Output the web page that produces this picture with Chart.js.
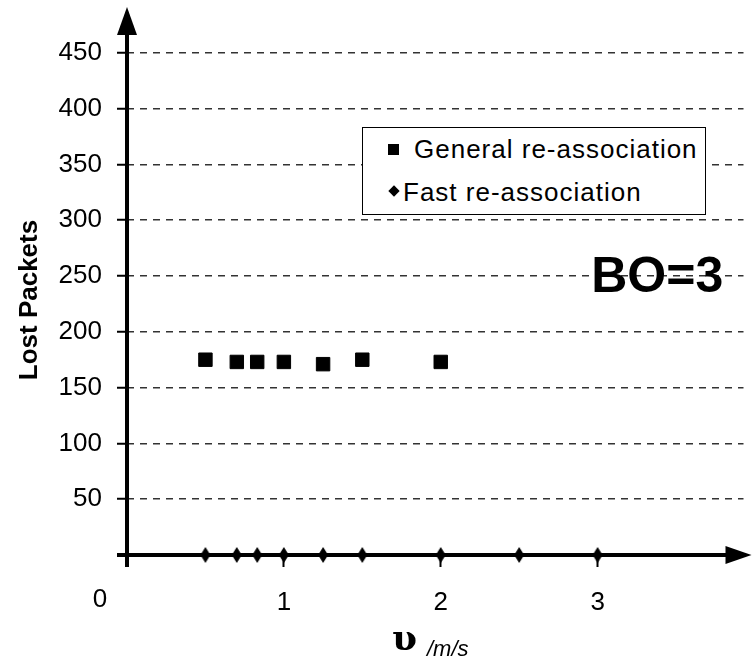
<!DOCTYPE html>
<html>
<head>
<meta charset="utf-8">
<script src="https://cdn.jsdelivr.net/npm/chart.js@4.4.0/dist/chart.umd.min.js"></script>
<style>
  html, body { margin: 0; padding: 0; background: #fff; }
  #wrap { position: relative; width: 754px; height: 666px; overflow: hidden; }
  #legend {
    position: absolute; left: 362px; top: 127px; width: 344px; height: 88px;
    box-sizing: border-box; border: 1.5px solid #000; background: #fff;
    font-family: "Liberation Sans", Arial, sans-serif; font-size: 26px; letter-spacing: 1px; color: #000;
  }
  #legend .row { position: absolute; left: 0; height: 30px; line-height: 30px; white-space: nowrap; }
  #legend .sq { position: absolute; left: 25px; top: 10px; width: 11px; height: 11px; background: #000; }
  #legend .dm { position: absolute; left: 27px; top: 10px; width: 8px; height: 8px; background: #000; transform: rotate(45deg); }
</style>
</head>
<body>
<div id="wrap">
  <canvas id="chart" width="754" height="666"></canvas>
  <div id="legend"></div>
</div>
<script>
// Lost packets vs. speed, BO=3

const speeds = [0.5, 0.7, 0.83, 1.0, 1.25, 1.5, 2.0, 2.5, 3.0]; // m/s
const generalLost = [175, 173, 173, 173, 171, 175, 173];        // first 7 speeds
const fastLost = [0, 0, 0, 0, 0, 0, 0, 0, 0];
const seriesNames = ["General re-association", "Fast re-association"];
const xTicks = [0, 1, 2, 3];
const yTicks = [0, 50, 100, 150, 200, 250, 300, 350, 400, 450];
const xMax = 3.93;
const yMax = 457;

const FONT = '"Liberation Sans", Arial, sans-serif';

// small tall diamond used for the fast series
const diamond = document.createElement("canvas");
diamond.width = 10; diamond.height = 16;
const dctx = diamond.getContext("2d");
dctx.fillStyle = "#000";
dctx.beginPath();
dctx.moveTo(5, 0); dctx.lineTo(10, 8); dctx.lineTo(5, 16); dctx.lineTo(0, 8);
dctx.closePath(); dctx.fill();

// axes with arrow heads
const axesPlugin = {
    id: "axes",
    beforeDatasetsDraw(chart) {
        const { ctx, chartArea: { left, right, bottom } } = chart;
        ctx.save();
        ctx.fillStyle = "#000";
        ctx.strokeStyle = "#000";
        ctx.lineWidth = 4;
        ctx.beginPath();
        ctx.moveTo(left - 10, bottom);
        ctx.lineTo(right - 16, bottom);
        ctx.moveTo(left, bottom + 12);
        ctx.lineTo(left, 30);
        ctx.stroke();
        // right arrow
        ctx.beginPath();
        ctx.moveTo(right - 18, bottom - 9);
        ctx.lineTo(right + 8, bottom);
        ctx.lineTo(right - 18, bottom + 9);
        ctx.closePath();
        ctx.fill();
        // up arrow
        ctx.beginPath();
        ctx.moveTo(left - 10, 35);
        ctx.lineTo(left, 7);
        ctx.lineTo(left + 10, 35);
        ctx.closePath();
        ctx.fill();
        ctx.restore();
    }
};

// extra texts: origin "0", x-axis title, BO=3
const textPlugin = {
    id: "texts",
    afterDraw(chart) {
        const { ctx, scales: { x, y }, chartArea: { left, bottom } } = chart;
        ctx.save();
        ctx.fillStyle = "#000";
        ctx.textBaseline = "middle";
        ctx.textAlign = "center";
        ctx.font = "26px " + FONT;
        ctx.fillText("0", left - 27, bottom + 45);

        ctx.font = "bold 50px " + FONT;
        ctx.fillText("BO=3", x.getPixelForValue(3.38), y.getPixelForValue(248));

        ctx.textAlign = "left";
        ctx.textBaseline = "alphabetic";
        ctx.font = "bold 36px 'DejaVu Serif', serif";
        ctx.fillText("υ", 392, 650);
        ctx.font = "italic 22px " + FONT;
        ctx.fillText("/m/s", 427, 656);
        ctx.restore();
    }
};

const ctx = document.getElementById("chart").getContext("2d");
const chart = new Chart(ctx, {
    type: "scatter",
    data: {
        datasets: [{
            label: seriesNames[0],
            data: generalLost.map((v, i) => ({ x: speeds[i], y: v })),
            pointStyle: "rect",
            pointRadius: 9.5,
            borderWidth: 1,
            backgroundColor: "#000",
            borderColor: "#000",
            clip: false
        }, {
            label: seriesNames[1],
            data: fastLost.map((v, i) => ({ x: speeds[i], y: v })),
            pointStyle: diamond,
            backgroundColor: "#000",
            borderColor: "#000",
            clip: false
        }]
    },
    options: {
        responsive: false,
        animation: false,
        layout: { padding: { top: 45, right: 0, left: 0, bottom: 0 } },
        plugins: {
            legend: { display: false },
            tooltip: { enabled: false }
        },
        scales: {
            x: {
                type: "linear",
                min: 0,
                max: xMax,
                afterFit: s => { s.height = 111; },
                afterBuildTicks: s => { s.ticks = xTicks.map(v => ({ value: v })); },
                grid: { drawOnChartArea: false, tickLength: 12, tickWidth: 2, tickColor: "#000" },
                border: { display: false },
                ticks: {
                    padding: 20,
                    color: "#000",
                    autoSkip: false,
                    maxRotation: 0,
                    font: { size: 26, family: FONT },
                    callback: v => (v === 0 ? "" : String(v))
                }
            },
            y: {
                min: 0,
                max: yMax,
                afterFit: s => { s.width = 127; },
                afterBuildTicks: s => { s.ticks = yTicks.map(v => ({ value: v })); },
                grid: {
                    color: c => (c.tick && c.tick.value === 0 ? "rgba(0,0,0,0)" : "#333"),
                    lineWidth: 1.5,
                    tickColor: "#000",
                    tickWidth: 2,
                    tickLength: 10,
                    tickBorderDash: []
                },
                border: { display: false, dash: [7, 6] },
                ticks: {
                    padding: 15,
                    color: "#000",
                    font: { size: 26, family: FONT },
                    callback: v => (v === 0 ? "" : String(v))
                },
                title: {
                    display: true,
                    text: "Lost Packets",
                    color: "#000",
                    font: { size: 26, weight: "bold", family: FONT },
                    padding: { top: 14, bottom: 0 }
                }
            }
        }
    },
    plugins: [axesPlugin, textPlugin]
});

// html legend built from the dataset labels
const legend = document.getElementById("legend");
chart.data.datasets.forEach((ds, i) => {
    const row = document.createElement("div");
    row.className = "row";
    row.style.top = (i === 0 ? 6 : 49) + "px";
    const mark = document.createElement("span");
    mark.className = i === 0 ? "sq" : "dm";
    const txt = document.createElement("span");
    txt.textContent = ds.label;
    txt.style.marginLeft = (i === 0 ? 51 : 40) + "px";
    row.appendChild(mark);
    row.appendChild(txt);
    legend.appendChild(row);
});
</script>
</body>
</html>
